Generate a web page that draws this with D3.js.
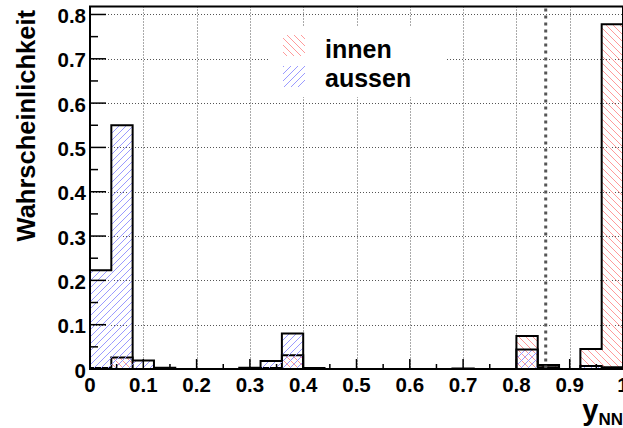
<!DOCTYPE html>
<html>
<head>
<meta charset="utf-8">
<script src="https://cdn.jsdelivr.net/npm/d3@7"></script>
<style>
  html, body { margin: 0; padding: 0; background: #fff; }
  svg { display: block; font-family: "Liberation Sans", Arial, Helvetica, sans-serif; font-weight: bold; }
</style>
</head>
<body>
<svg id="chart" width="623" height="428"></svg>
<script>
// Bin lower edges (bin width 0.04 on y_NN)
const binStarts = [0.00, 0.04, 0.08, 0.12, 0.16, 0.20, 0.24, 0.28, 0.32, 0.36,
                   0.40, 0.44, 0.48, 0.52, 0.56, 0.60, 0.64, 0.68, 0.72, 0.76,
                   0.80, 0.84, 0.88, 0.92, 0.96];
const binWidth = 0.04;

// Probability per bin
const innen  = [0.002, 0.026, 0.000, 0.000, 0.000, 0.000, 0.000, 0.000, 0.002, 0.031,
                0.000, 0.000, 0.000, 0.000, 0.000, 0.000, 0.000, 0.000, 0.000, 0.000,
                0.0745, 0.009, 0.000, 0.045, 0.778];
const aussen = [0.223, 0.550, 0.019, 0.003, 0.000, 0.000, 0.000, 0.003, 0.018, 0.080,
                0.002, 0.000, 0.000, 0.000, 0.000, 0.000, 0.000, 0.001, 0.000, 0.000,
                0.044, 0.004, 0.000, 0.007, 0.004];

const xTicks = [0, 0.1, 0.2, 0.3, 0.4, 0.5, 0.6, 0.7, 0.8, 0.9, 1];
const xTickLabels = ["0", "0.1", "0.2", "0.3", "0.4", "0.5", "0.6", "0.7", "0.8", "0.9", "1"];
const yTicks = [0, 0.1, 0.2, 0.3, 0.4, 0.5, 0.6, 0.7, 0.8];
const yTickLabels = ["0", "0.1", "0.2", "0.3", "0.4", "0.5", "0.6", "0.7", "0.8"];
const cutValue = 0.855;

const seriesNames = ["innen", "aussen"];
const seriesColors = ["#ff9a9a", "#9a9aff"];

const svg = d3.select("#chart");
const plotL = 90, plotR = 623, plotT = 6.5, plotB = 369;

const x = d3.scaleLinear().domain([0, 1]).range([plotL, plotR]);
const y = d3.scaleLinear().domain([0, 0.818]).range([plotB, plotT]);

// Hatch patterns: "\\" for innen, "/" for aussen
const defs = svg.append("defs");
function hatch(id, color, dir) {
  const s = 7;
  const p = defs.append("pattern").attr("id", id)
    .attr("patternUnits", "userSpaceOnUse").attr("width", s).attr("height", s);
  const d = dir === "back"
    ? `M0,0 L${s},${s} M${-s},0 L${s},${2 * s} M0,${-s} L${2 * s},${s}`
    : `M0,${s} L${s},0 M${-s},${s} L${s},${-s} M0,${2 * s} L${2 * s},0`;
  p.append("path").attr("d", d).attr("stroke", color).attr("stroke-width", 1).attr("fill", "none");
}
hatch("hatch-innen", seriesColors[0], "back");
hatch("hatch-aussen", seriesColors[1], "fwd");

// Grid
const grid = svg.append("g").attr("stroke", "#555").attr("stroke-width", 1).attr("stroke-dasharray", "1,2");
grid.selectAll(".gx").data(xTicks.filter(t => t > 0 && t < 1)).join("line")
  .attr("x1", d => Math.round(x(d)) + 0.5).attr("x2", d => Math.round(x(d)) + 0.5)
  .attr("y1", plotT).attr("y2", plotB);
grid.selectAll(".gy").data(yTicks.filter(t => t > 0)).join("line")
  .attr("y1", d => Math.round(y(d)) + 0.5).attr("y2", d => Math.round(y(d)) + 0.5)
  .attr("x1", plotL).attr("x2", plotR);

// Legend box (white, hides grid behind)
const legend = svg.append("g");
legend.append("rect").attr("x", 268).attr("y", 27).attr("width", 178).attr("height", 70).attr("fill", "#fff");

// Histograms: hatched fill per bin + black step outline
const hists = [innen, aussen];
hists.forEach((vals, i) => {
  const g = svg.append("g");
  g.selectAll("rect").data(binStarts.map((b, k) => ({ b, v: vals[k] })).filter(d => d.v > 0)).join("rect")
    .attr("x", d => x(d.b)).attr("width", d => x(d.b + binWidth) - x(d.b))
    .attr("y", d => y(d.v)).attr("height", d => y(0) - y(d.v))
    .attr("fill", `url(#hatch-${seriesNames[i]})`);
  const pts = [[x(binStarts[0]), y(0)]];
  binStarts.forEach((b, k) => {
    pts.push([x(b), y(vals[k])]);
    pts.push([x(b + binWidth), y(vals[k])]);
  });
  pts.push([x(binStarts[binStarts.length - 1] + binWidth), y(0)]);
  g.append("path").attr("d", d3.line()(pts)).attr("fill", "none")
    .attr("stroke", "#000").attr("stroke-width", 2);
});

// Cut line
svg.append("line")
  .attr("x1", x(cutValue)).attr("x2", x(cutValue))
  .attr("y1", plotT + 2).attr("y2", plotB)
  .attr("stroke", "#555").attr("stroke-width", 3).attr("stroke-dasharray", "3,4");

// Axes ticks (pointing inward)
const tickG = svg.append("g").attr("stroke", "#000").attr("stroke-width", 1.5);
const yMinor = yTicks.slice(0, -1).map(t => t + 0.05);
tickG.selectAll(".ty").data(yTicks).join("line")
  .attr("x1", plotL).attr("x2", plotL + 16)
  .attr("y1", d => y(d)).attr("y2", d => y(d));
tickG.selectAll(".tym").data(yMinor).join("line")
  .attr("x1", plotL).attr("x2", plotL + 8)
  .attr("y1", d => y(d)).attr("y2", d => y(d));
const xMinor = xTicks.slice(0, -1).map(t => t + 0.05);
tickG.selectAll(".tx").data(xTicks).join("line")
  .attr("x1", d => x(d)).attr("x2", d => x(d))
  .attr("y1", plotB).attr("y2", plotB - 10);
tickG.selectAll(".txm").data(xMinor).join("line")
  .attr("x1", d => x(d)).attr("x2", d => x(d))
  .attr("y1", plotB).attr("y2", plotB - 5);

// Frame
svg.append("rect").attr("x", plotL).attr("y", plotT).attr("width", plotR - plotL).attr("height", plotB - plotT)
  .attr("fill", "none").attr("stroke", "#000").attr("stroke-width", 2);

// Tick labels
svg.append("g").selectAll("text").data(yTicks).join("text")
  .attr("x", 86).attr("y", d => y(d) + 8.5).attr("text-anchor", "end")
  .attr("font-size", 20.5).text((d, k) => yTickLabels[k]);
svg.append("g").selectAll("text").data(xTicks).join("text")
  .attr("x", d => x(d)).attr("y", 392).attr("text-anchor", "middle")
  .attr("font-size", 20.5).text((d, k) => xTickLabels[k]);

// Axis titles
svg.append("text").attr("transform", "translate(35,10) rotate(-90)")
  .attr("text-anchor", "end").attr("font-size", 25.5).text("Wahrscheinlichkeit");
const xt = svg.append("text").attr("x", 623).attr("y", 420).attr("text-anchor", "end").attr("font-size", 29);
xt.append("tspan").text("y");
xt.append("tspan").attr("font-size", 17).attr("dy", 5).text("NN");

// Legend entries
seriesNames.forEach((name, i) => {
  legend.append("rect").attr("x", 283).attr("y", 35 + i * 31).attr("width", 22).attr("height", 21)
    .attr("fill", `url(#hatch-${name})`);
  legend.append("text").attr("x", 325).attr("y", 58 + i * 29).attr("font-size", 25).text(name);
});
</script>
</body>
</html>
